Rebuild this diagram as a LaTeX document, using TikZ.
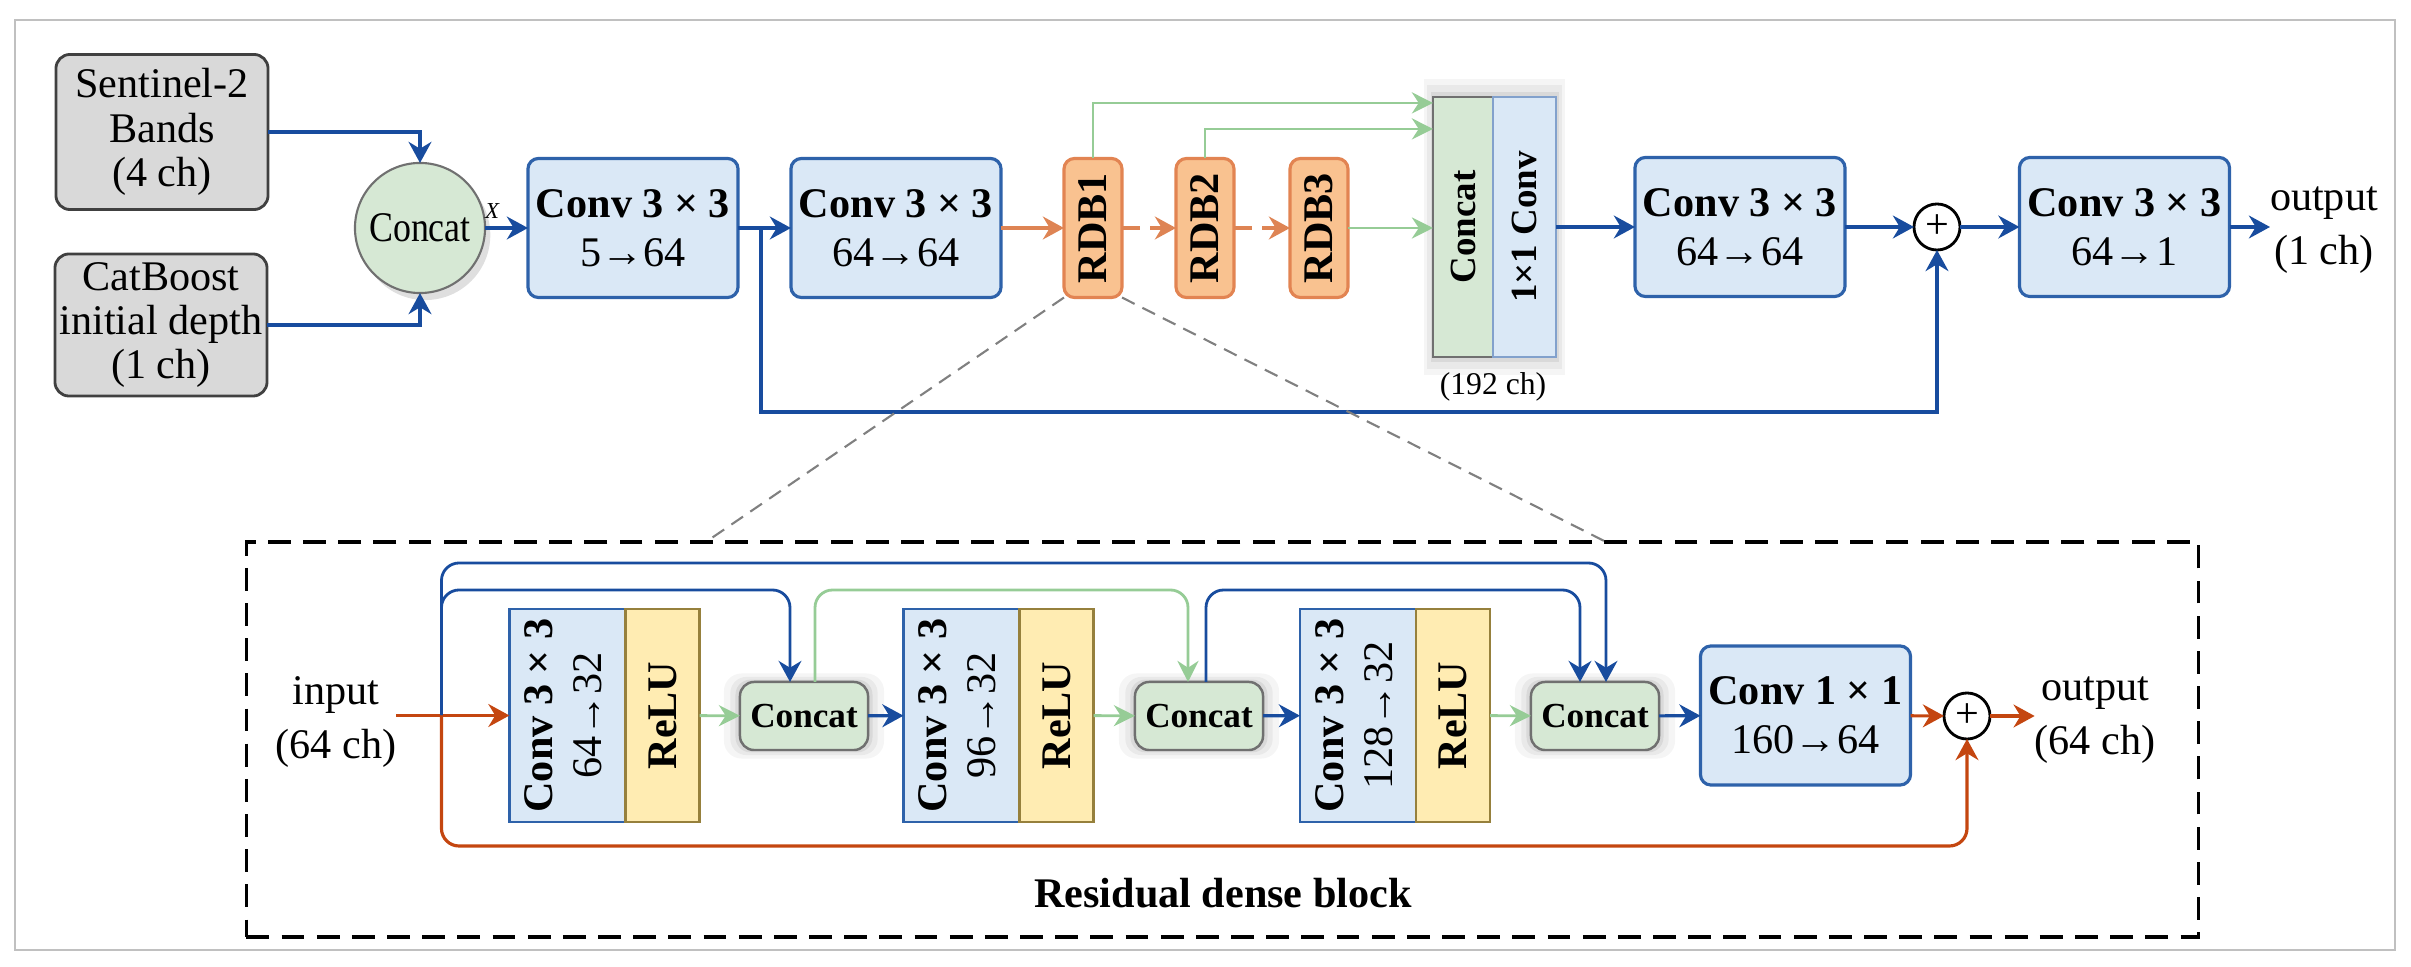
\documentclass[tikz,border=0pt]{standalone}
\usepackage{fontspec}
\setmainfont{Liberation Serif}
\usetikzlibrary{arrows.meta,positioning,calc,shadows,fit,backgrounds}

\definecolor{convfill}{RGB}{218,232,246}
\definecolor{convline}{RGB}{46,98,170}
\definecolor{arrblue}{RGB}{24,76,158}
\definecolor{srcfill}{RGB}{217,217,217}
\definecolor{srcline}{RGB}{64,64,64}
\definecolor{catfill}{RGB}{214,232,212}
\definecolor{catline}{RGB}{112,112,112}
\definecolor{rdbfill}{RGB}{249,194,144}
\definecolor{rdbline}{RGB}{226,132,82}
\definecolor{arrorange}{RGB}{222,132,84}
\definecolor{arrgreen}{RGB}{150,204,150}
\definecolor{relufill}{RGB}{255,236,178}
\definecolor{reluline}{RGB}{150,128,60}
\definecolor{arrred}{RGB}{196,70,16}
\definecolor{framegray}{RGB}{192,192,192}

\begin{document}
\begin{tikzpicture}[
      x=0.01cm, y=-0.01cm,
      every node/.style={inner sep=0pt, outer sep=0pt,
                  font=\fontsize{12}{14}\selectfont},
      src/.style={draw=srcline, fill=srcfill, line width=0.8pt,
                  rounded corners=4pt, minimum width=2.12cm,
                  align=center, font=\fontsize{12}{12.6}\selectfont},
      mod/.style={draw=convline, fill=convfill, line width=0.9pt,
                  rounded corners=3pt, minimum width=2.1cm,
                  minimum height=1.39cm, align=center},
      catc/.style={circle, draw=catline, fill=catfill, line width=0.6pt,
                  minimum size=1.3cm,
                  drop shadow={opacity=0.25, shadow xshift=1.5pt, shadow yshift=-2pt}},
      rdb/.style={draw=rdbline, fill=rdbfill, line width=0.9pt,
                  rounded corners=3pt, minimum width=0.58cm,
                  minimum height=1.39cm, font=\fontsize{12}{14}\selectfont\bfseries},
      tall/.style={line width=0.7pt, minimum height=2.6cm,
                  font=\fontsize{10.5}{12}\selectfont\bfseries},
      halo/.style={general shadow={fill=black, opacity=0.04, shadow scale=1.14},
                  general shadow={fill=black, opacity=0.05, shadow scale=1.09},
                  general shadow={fill=black, opacity=0.07, shadow scale=1.04}},
      cbox/.style={draw=catline, fill=catfill, line width=0.7pt,
                  rounded corners=4pt, minimum width=1.28cm, minimum height=0.68cm,
                  font=\fontsize{10}{12}\selectfont\bfseries,
                  general shadow={fill=black, opacity=0.04, shadow scale=1.25},
                  general shadow={fill=black, opacity=0.05, shadow scale=1.15},
                  general shadow={fill=black, opacity=0.07, shadow scale=1.07}},
      vconv/.style={draw=convline, fill=convfill, line width=0.8pt,
                  minimum width=1.16cm, minimum height=2.13cm},
      relu/.style={draw=reluline, fill=relufill, line width=0.8pt,
                  minimum width=0.74cm, minimum height=2.13cm,
                  font=\fontsize{12}{14}\selectfont\bfseries},
      plus/.style={circle, draw, fill=white, line width=0.8pt, minimum size=0.46cm},
      arr/.style={-{Stealth[length=6pt, width=6.5pt]}, line width=0.9pt, color=arrblue},
      oarr/.style={-{Stealth[length=6pt, width=6.5pt]}, line width=0.9pt, color=arrorange},
      garr/.style={-{Stealth[length=6pt, width=6pt]}, line width=0.8pt, color=arrgreen},
      rarr/.style={-{Stealth[length=6pt, width=6.5pt]}, line width=0.9pt, color=arrred},
      zoomln/.style={gray, line width=0.6pt, dash pattern=on 4pt off 2.5pt}
  ]
    \useasboundingbox (0,0) rectangle (2411,967);
    \draw[framegray, line width=0.7pt] (15,20) rectangle (2395,950);

    % main network
    \node[src, minimum height=1.55cm] (s2) at (162,132) {Sentinel-2\\ Bands\\ (4 ch)};
    \node[src, minimum height=1.42cm] (cb) at (161,325) {CatBoost\\ initial depth\\ (1 ch)};
    \node[catc] (cc) at (420,228) {\scalebox{0.85}[1]{Concat}};
    \node[font=\fontsize{6.5}{7}\selectfont\itshape] (xl) at (492,211) {X};
    \node[mod] (c1) at (633,228) {\textbf{Conv 3 × 3}\\ 5→64};
    \node[mod] (c2) at (896,228) {\textbf{Conv 3 × 3}\\ 64→64};
    \node[rdb] (rdb1) at (1093,228) {\rotatebox{90}{RDB1}};
    \node[rdb] (rdb2) at (1205,228) {\rotatebox{90}{RDB2}};
    \node[rdb] (rdb3) at (1319,228) {\rotatebox{90}{RDB3}};
    \node[tall, draw=catline, fill=catfill, minimum width=0.6cm] (tcat) at (1463,227) {\rotatebox{90}{Concat}};
    \node[tall, draw=convline!60, fill=convfill, minimum width=0.63cm, right=0pt of tcat] (tconv) {\rotatebox{90}{1×1 Conv}};
    \node[font=\fontsize{9}{10}\selectfont, below=0.15cm of tconv.south west] (ch192) {(192 ch)};
    \node[mod] (c3) at (1740,227) {\textbf{Conv 3 × 3}\\ 64→64};
    \node[plus] (plus1) at (1937,227) {+};
    \node[mod] (c4) at (2124.5,227) {\textbf{Conv 3 × 3}\\ 64→1};
    \node[align=center, anchor=west, font=\fontsize{12}{15.5}\selectfont] (out1) at (2270,230) {output\\ (1 ch)};
    \begin{scope}[on background layer]
      \node[fit=(tcat)(tconv), fill=white, halo] (tallbg) {};
    \end{scope}

    \draw[arr] (s2.east) -| (cc.north);
    \draw[arr] (cb.east) -| (cc.south);
    \draw[arr] (cc) -- (c1);
    \draw[arr] (c1) -- (c2);
    \coordinate (j1) at ($(c1.east)+(23,0)$);
    \draw[arr] (j1) -- ++(0,184) -| (plus1.south);
    \draw[oarr] (c2) -- (rdb1);
    \draw[oarr, dash pattern=on 5pt off 3pt] (rdb1) -- (rdb2);
    \draw[oarr, dash pattern=on 5pt off 3pt] (rdb2) -- (rdb3);
    \draw[garr] (rdb1.north) |- ($(tcat.north west)+(0,6)$);
    \draw[garr] (rdb2.north) |- ($(tcat.north west)+(0,32)$);
    \draw[garr] (rdb3) -- (tcat.west |- rdb3);
    \draw[arr] (tconv.east |- c3) -- (c3);
    \draw[arr] (c3) -- (plus1);
    \draw[arr] (plus1) -- (c4);
    \draw[arr] (c4.east) -- (c4.east -| out1.west);

    % residual dense block
    \node[draw, line width=1pt, dash pattern=on 6.5pt off 3.5pt,
          minimum width=19.51cm, minimum height=3.95cm] (rdbbox) at (1222.5,739.5) {};
    \node[font=\fontsize{12}{14}\selectfont\bfseries] (rdbtitle) at (1223,893) {Residual dense block};
    \coordinate (zl) at ($(rdbbox.north)+(-516.5,0)$);
    \coordinate (zr) at ($(rdbbox.north)+(383.5,0)$);
    \draw[zoomln] (rdb1.south west) -- (zl);
    \draw[zoomln] (rdb1.south east) -- (zr);

    \node[align=center, font=\fontsize{12}{15.5}\selectfont] (inp) at (336,722) {input\\ (64 ch)};
    \node[vconv] (cva) at (567.5,715.5) {\rotatebox{90}{\fontsize{12}{14}\selectfont\begin{tabular}{@{}c@{}}\textbf{Conv 3 × 3}\\ 64→32\end{tabular}}};
    \node[relu, right=0pt of cva] (ra) {\rotatebox{90}{ReLU}};
    \node[cbox] (cca) at (804,716) {Concat};
    \node[vconv] (cvb) at (961.5,715.5) {\rotatebox{90}{\fontsize{12}{14}\selectfont\begin{tabular}{@{}c@{}}\textbf{Conv 3 × 3}\\ 96→32\end{tabular}}};
    \node[relu, right=0pt of cvb] (rb) {\rotatebox{90}{ReLU}};
    \node[cbox] (ccb) at (1199,716) {Concat};
    \node[vconv] (cvc) at (1358,715.5) {\rotatebox{90}{\fontsize{12}{14}\selectfont\begin{tabular}{@{}c@{}}\textbf{Conv 3 × 3}\\ 128→32\end{tabular}}};
    \node[relu, right=0pt of cvc] (rc) {\rotatebox{90}{ReLU}};
    \node[cbox] (ccc) at (1595,716) {Concat};
    \node[mod] (c11) at (1805.5,715.5) {\textbf{Conv 1 × 1}\\ 160→64};
    \node[plus] (plus2) at (1967,716) {+};
    \node[align=center, font=\fontsize{12}{15.5}\selectfont] (out2) at (2095,720) {output\\ (64 ch)};

    \coordinate (jr) at ($(cva.west)+(-68,0)$);
    \draw[rarr] (inp.east |- cva.west) -- (cva.west);
    \draw[arr, line width=0.8pt, rounded corners=5pt] (jr) |- ($(cca.north)+(-14,-92)$) -- ($(cca.north)+(-14,0)$);
    \draw[arr, line width=0.8pt, rounded corners=5pt] (jr) |- ($(ccc.north)+(11,-119)$) -- ($(ccc.north)+(11,0)$);
    \draw[garr, rounded corners=5pt] ($(cca.north)+(11,0)$) |- ($(ccb.north)+(-11,-92)$) -- ($(ccb.north)+(-11,0)$);
    \draw[arr, line width=0.8pt, rounded corners=5pt] ($(ccb.north)+(7,0)$) |- ($(ccc.north)+(-15,-92)$) -- ($(ccc.north)+(-15,0)$);
    \draw[rarr, rounded corners=5pt] (jr) |- ($(plus2.south)+(0,107)$) -- (plus2.south);
    \draw[garr] (ra) -- (cca);
    \draw[arr] (cca) -- (cvb);
    \draw[garr] (rb) -- (ccb);
    \draw[arr] (ccb) -- (cvc);
    \draw[garr] (rc) -- (ccc);
    \draw[arr] (ccc) -- (c11);
    \draw[rarr] (c11) -- (plus2);
    \draw[rarr] (plus2) -- (plus2 -| out2.west);
  \end{tikzpicture}
\end{document}
